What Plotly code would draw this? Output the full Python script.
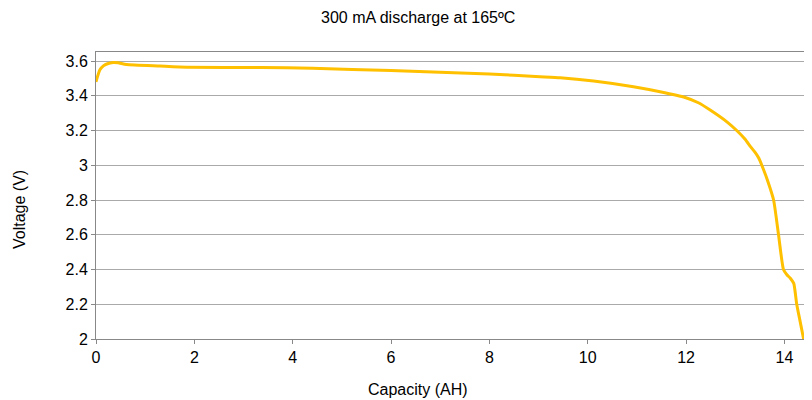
import plotly.graph_objects as go

capacity_ah = [0.0, 0.03, 0.08, 0.15, 0.22, 0.35, 0.45, 0.62, 1.3, 1.85, 3.34, 4.4, 6.0, 8.0, 9.03,
               9.44, 10.12, 10.93, 11.47, 11.98, 12.25, 12.49, 12.83, 13.03, 13.2, 13.31, 13.4,
               13.48, 13.54, 13.66, 13.78, 13.88, 13.98, 14.05, 14.12, 14.19, 14.25, 14.32, 14.39]
voltage_v = [3.48, 3.51, 3.55, 3.572, 3.583, 3.592, 3.59, 3.58, 3.571, 3.564, 3.563, 3.558, 3.545, 3.525, 3.51,
             3.504, 3.485, 3.452, 3.423, 3.39, 3.36, 3.318, 3.25, 3.2, 3.15, 3.107, 3.075,
             3.04, 3.0, 2.91, 2.8, 2.6, 2.4, 2.37, 2.35, 2.32, 2.2, 2.1, 2.0]

x_ticks = [0, 2, 4, 6, 8, 10, 12, 14]
y_ticks = [2, 2.2, 2.4, 2.6, 2.8, 3, 3.2, 3.4, 3.6]
y_tick_labels = ["2", "2.2", "2.4", "2.6", "2.8", "3", "3.2", "3.4", "3.6"]

font = "Liberation Sans, Arial, sans-serif"

fig = go.Figure()
fig.add_trace(go.Scatter(
    x=capacity_ah, y=voltage_v, mode="lines",
    line=dict(color="#FFC000", width=3, shape="spline", smoothing=0.5),
    hoverinfo="skip", showlegend=False,
))

fig.update_layout(
    width=812, height=400,
    margin=dict(l=88, r=10, t=44, b=69),
    paper_bgcolor="white", plot_bgcolor="white",
    font=dict(family=font, size=16, color="#000"),
    xaxis=dict(range=[0, 14.52], tickvals=x_ticks, showgrid=False, zeroline=False,
               showline=True, linecolor="#888", linewidth=1, mirror=True,
               ticks="outside", ticklen=4, tickcolor="#888",
               tickfont=dict(size=16, family=font)),
    yaxis=dict(range=[2, 3.652], tickvals=y_ticks, ticktext=y_tick_labels,
               showgrid=True, gridcolor="#aaa", gridwidth=1, zeroline=False,
               showline=True, linecolor="#888", linewidth=1, mirror=True,
               ticks="outside", ticklen=4, tickcolor="#888",
               tickfont=dict(size=16, family=font)),
    annotations=[
        dict(text="300 mA discharge at 165ºC", xref="paper", yref="paper",
             x=(410-88)/714, y=1 + 44/287, xanchor="center", yanchor="top",
             showarrow=False, borderpad=0, font=dict(size=16, family=font)),
        dict(text="Capacity (AH)", xref="paper", yref="paper", x=(410-88)/714, y=-50/287,
             xanchor="center", yanchor="middle", showarrow=False, font=dict(size=16, family=font)),
        dict(text="Voltage (V)", xref="paper", yref="paper", x=-76/714, y=129/287,
             xanchor="center", yanchor="middle", textangle=-90, showarrow=False,
             font=dict(size=16, family=font)),
    ],
)

fig.write_html("out.html")
